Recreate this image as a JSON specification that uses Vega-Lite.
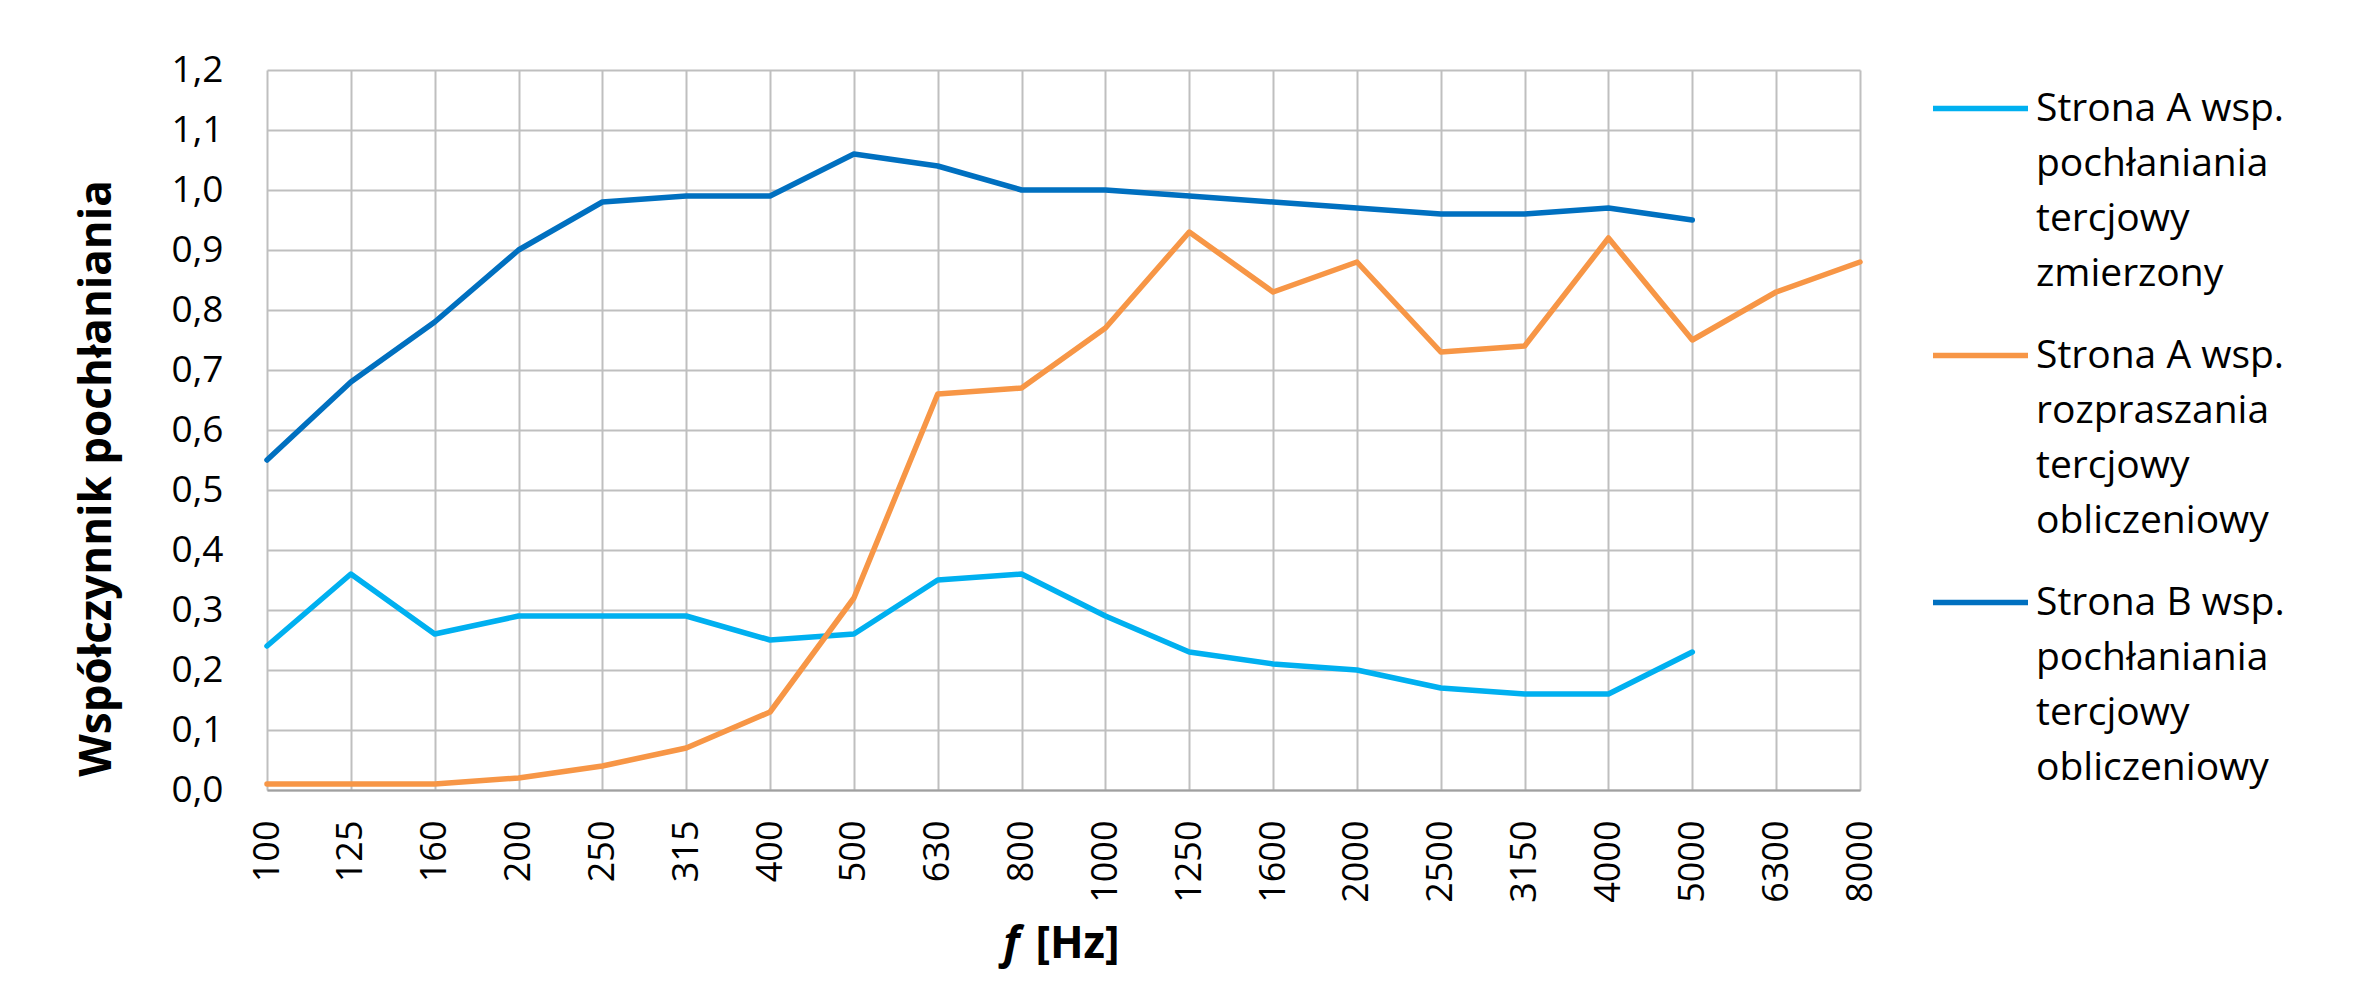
{
  "$schema": "https://vega.github.io/schema/vega-lite/v6.json",
  "width": 1593,
  "height": 720,
  "autosize": {"type": "none"},
  "padding": {"left": 267, "top": 70, "right": 498, "bottom": 206},
  "background": "white",
  "data": {"values": [
    {"f": "100", "s": "Strona A wsp. pochłaniania tercjowy zmierzony", "v": 0.24},
    {"f": "125", "s": "Strona A wsp. pochłaniania tercjowy zmierzony", "v": 0.36},
    {"f": "160", "s": "Strona A wsp. pochłaniania tercjowy zmierzony", "v": 0.26},
    {"f": "200", "s": "Strona A wsp. pochłaniania tercjowy zmierzony", "v": 0.29},
    {"f": "250", "s": "Strona A wsp. pochłaniania tercjowy zmierzony", "v": 0.29},
    {"f": "315", "s": "Strona A wsp. pochłaniania tercjowy zmierzony", "v": 0.29},
    {"f": "400", "s": "Strona A wsp. pochłaniania tercjowy zmierzony", "v": 0.25},
    {"f": "500", "s": "Strona A wsp. pochłaniania tercjowy zmierzony", "v": 0.26},
    {"f": "630", "s": "Strona A wsp. pochłaniania tercjowy zmierzony", "v": 0.35},
    {"f": "800", "s": "Strona A wsp. pochłaniania tercjowy zmierzony", "v": 0.36},
    {"f": "1000", "s": "Strona A wsp. pochłaniania tercjowy zmierzony", "v": 0.29},
    {"f": "1250", "s": "Strona A wsp. pochłaniania tercjowy zmierzony", "v": 0.23},
    {"f": "1600", "s": "Strona A wsp. pochłaniania tercjowy zmierzony", "v": 0.21},
    {"f": "2000", "s": "Strona A wsp. pochłaniania tercjowy zmierzony", "v": 0.20},
    {"f": "2500", "s": "Strona A wsp. pochłaniania tercjowy zmierzony", "v": 0.17},
    {"f": "3150", "s": "Strona A wsp. pochłaniania tercjowy zmierzony", "v": 0.16},
    {"f": "4000", "s": "Strona A wsp. pochłaniania tercjowy zmierzony", "v": 0.16},
    {"f": "5000", "s": "Strona A wsp. pochłaniania tercjowy zmierzony", "v": 0.23},
    {"f": "100", "s": "Strona A wsp. rozpraszania tercjowy obliczeniowy", "v": 0.01},
    {"f": "125", "s": "Strona A wsp. rozpraszania tercjowy obliczeniowy", "v": 0.01},
    {"f": "160", "s": "Strona A wsp. rozpraszania tercjowy obliczeniowy", "v": 0.01},
    {"f": "200", "s": "Strona A wsp. rozpraszania tercjowy obliczeniowy", "v": 0.02},
    {"f": "250", "s": "Strona A wsp. rozpraszania tercjowy obliczeniowy", "v": 0.04},
    {"f": "315", "s": "Strona A wsp. rozpraszania tercjowy obliczeniowy", "v": 0.07},
    {"f": "400", "s": "Strona A wsp. rozpraszania tercjowy obliczeniowy", "v": 0.13},
    {"f": "500", "s": "Strona A wsp. rozpraszania tercjowy obliczeniowy", "v": 0.32},
    {"f": "630", "s": "Strona A wsp. rozpraszania tercjowy obliczeniowy", "v": 0.66},
    {"f": "800", "s": "Strona A wsp. rozpraszania tercjowy obliczeniowy", "v": 0.67},
    {"f": "1000", "s": "Strona A wsp. rozpraszania tercjowy obliczeniowy", "v": 0.77},
    {"f": "1250", "s": "Strona A wsp. rozpraszania tercjowy obliczeniowy", "v": 0.93},
    {"f": "1600", "s": "Strona A wsp. rozpraszania tercjowy obliczeniowy", "v": 0.83},
    {"f": "2000", "s": "Strona A wsp. rozpraszania tercjowy obliczeniowy", "v": 0.88},
    {"f": "2500", "s": "Strona A wsp. rozpraszania tercjowy obliczeniowy", "v": 0.73},
    {"f": "3150", "s": "Strona A wsp. rozpraszania tercjowy obliczeniowy", "v": 0.74},
    {"f": "4000", "s": "Strona A wsp. rozpraszania tercjowy obliczeniowy", "v": 0.92},
    {"f": "5000", "s": "Strona A wsp. rozpraszania tercjowy obliczeniowy", "v": 0.75},
    {"f": "6300", "s": "Strona A wsp. rozpraszania tercjowy obliczeniowy", "v": 0.83},
    {"f": "8000", "s": "Strona A wsp. rozpraszania tercjowy obliczeniowy", "v": 0.88},
    {"f": "100", "s": "Strona B wsp. pochłaniania tercjowy obliczeniowy", "v": 0.55},
    {"f": "125", "s": "Strona B wsp. pochłaniania tercjowy obliczeniowy", "v": 0.68},
    {"f": "160", "s": "Strona B wsp. pochłaniania tercjowy obliczeniowy", "v": 0.78},
    {"f": "200", "s": "Strona B wsp. pochłaniania tercjowy obliczeniowy", "v": 0.90},
    {"f": "250", "s": "Strona B wsp. pochłaniania tercjowy obliczeniowy", "v": 0.98},
    {"f": "315", "s": "Strona B wsp. pochłaniania tercjowy obliczeniowy", "v": 0.99},
    {"f": "400", "s": "Strona B wsp. pochłaniania tercjowy obliczeniowy", "v": 0.99},
    {"f": "500", "s": "Strona B wsp. pochłaniania tercjowy obliczeniowy", "v": 1.06},
    {"f": "630", "s": "Strona B wsp. pochłaniania tercjowy obliczeniowy", "v": 1.04},
    {"f": "800", "s": "Strona B wsp. pochłaniania tercjowy obliczeniowy", "v": 1.00},
    {"f": "1000", "s": "Strona B wsp. pochłaniania tercjowy obliczeniowy", "v": 1.00},
    {"f": "1250", "s": "Strona B wsp. pochłaniania tercjowy obliczeniowy", "v": 0.99},
    {"f": "1600", "s": "Strona B wsp. pochłaniania tercjowy obliczeniowy", "v": 0.98},
    {"f": "2000", "s": "Strona B wsp. pochłaniania tercjowy obliczeniowy", "v": 0.97},
    {"f": "2500", "s": "Strona B wsp. pochłaniania tercjowy obliczeniowy", "v": 0.96},
    {"f": "3150", "s": "Strona B wsp. pochłaniania tercjowy obliczeniowy", "v": 0.96},
    {"f": "4000", "s": "Strona B wsp. pochłaniania tercjowy obliczeniowy", "v": 0.97},
    {"f": "5000", "s": "Strona B wsp. pochłaniania tercjowy obliczeniowy", "v": 0.95}
  ]},
  "encoding": {
    "y": {
      "field": "v", "type": "quantitative",
      "scale": {"domain": [0, 1.2], "nice": false, "zero": true},
      "axis": {
        "values": [0, 0.1, 0.2, 0.3, 0.4, 0.5, 0.6, 0.7, 0.8, 0.9, 1.0, 1.1, 1.2],
        "labelExpr": "replace(format(datum.value, '.1f'), '.', ',')",
        "labelFont": "Open Sans", "labelFontSize": 37, "labelColor": "#000000",
        "labelPadding": 44, "ticks": false, "domain": false,
        "grid": true, "gridColor": "#BFBFBF", "gridWidth": 2,
        "title": "Współczynnik pochłaniania",
        "titleFont": "Open Sans", "titleFontSize": 44, "titleFontWeight": "bold", "titleColor": "#000000",
        "titleX": -157, "titleY": 408, "titleBaseline": "alphabetic", "titleAlign": "center", "titleAngle": -90
      }
    },
    "color": {
      "field": "s", "type": "nominal",
      "scale": {
        "domain": ["Strona A wsp. pochłaniania tercjowy zmierzony", "Strona A wsp. rozpraszania tercjowy obliczeniowy", "Strona B wsp. pochłaniania tercjowy obliczeniowy"],
        "range": ["#00B0F0", "#F79646", "#0070C0"]
      },
      "legend": {
        "title": null, "orient": "none", "legendX": 1663, "legendY": -12,
        "symbolType": "stroke", "symbolSize": 9025, "symbolStrokeWidth": 5.5,
        "labelFont": "Open Sans", "labelFontSize": 39, "labelColor": "#000000",
        "labelLimit": 0, "labelOffset": 5, "rowPadding": 11, "labelBaseline": "middle",
        "labelExpr": "datum.label == 'Strona A wsp. pochłaniania tercjowy zmierzony' ? ['Strona A wsp.', 'pochłaniania', 'tercjowy', 'zmierzony'] : datum.label == 'Strona A wsp. rozpraszania tercjowy obliczeniowy' ? ['Strona A wsp.', 'rozpraszania', 'tercjowy', 'obliczeniowy'] : ['Strona B wsp.', 'pochłaniania', 'tercjowy', 'obliczeniowy']"
      }
    }
  },
  "layer": [
    {
      "transform": [{"filter": "datum.s !== 'Strona B wsp. pochłaniania tercjowy obliczeniowy'"}],
      "mark": {"type": "line", "strokeWidth": 5.5, "strokeCap": "round", "strokeJoin": "round"},
      "encoding": {
        "x": {
          "field": "f", "type": "ordinal",
          "sort": ["100", "125", "160", "200", "250", "315", "400", "500", "630", "800", "1000", "1250", "1600", "2000", "2500", "3150", "4000", "5000", "6300", "8000"],
          "scale": {"type": "point", "padding": 0},
          "axis": {
            "orient": "bottom",
            "labelAngle": -90, "labelFont": "Open Sans", "labelFontSize": 36, "labelColor": "#000000",
            "labelPadding": 30, "ticks": false,
            "domain": true, "domainColor": "#A0A0A0", "domainWidth": 2,
            "grid": true, "gridColor": "#BFBFBF", "gridWidth": 2,
            "title": "[Hz]", "titleFont": "Open Sans", "titleFontSize": 44, "titleFontWeight": "bold", "titleColor": "#000000",
            "titleX": 810, "titleY": 167, "titleBaseline": "alphabetic", "titleAlign": "center"
          }
        }
      }
    },
    {
      "transform": [{"filter": "datum.s === 'Strona B wsp. pochłaniania tercjowy obliczeniowy'"}],
      "mark": {"type": "line", "strokeWidth": 5.5, "strokeCap": "round", "strokeJoin": "round"},
      "encoding": {
        "x": {
          "field": "f", "type": "ordinal",
          "sort": ["100", "125", "160", "200", "250", "315", "400", "500", "630", "800", "1000", "1250", "1600", "2000", "2500", "3150", "4000", "5000", "6300", "8000"],
          "scale": {"type": "point", "padding": 0},
          "axis": {
            "orient": "bottom",
            "labels": false, "ticks": false, "domain": false, "grid": false,
            "title": "f", "titleFont": "Open Sans", "titleFontSize": 44, "titleFontWeight": "bold", "titleFontStyle": "italic", "titleColor": "#000000",
            "titleX": 744, "titleY": 167, "titleBaseline": "alphabetic", "titleAlign": "center"
          }
        }
      }
    }
  ],
  "resolve": {"axis": {"x": "independent"}},
  "config": {
    "view": {"stroke": null},
    "style": {"guide-label": {"lineHeight": 55}}
  }
}
